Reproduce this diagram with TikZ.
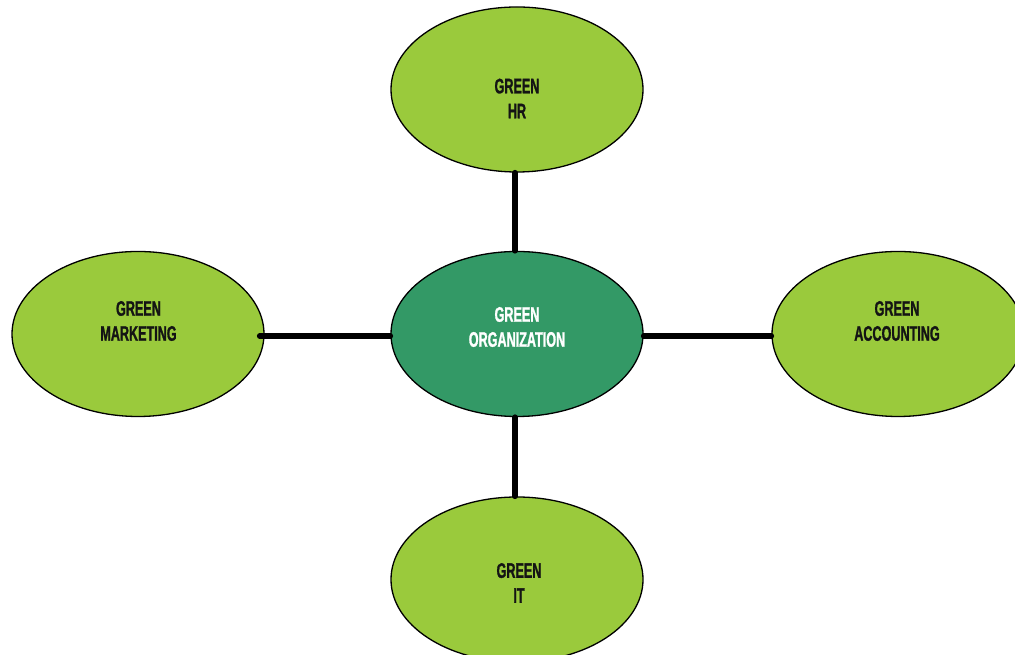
\documentclass[tikz,border=0pt]{standalone}
\usepackage{fontspec}
\newfontfamily\agency{Liberation Sans}[FakeStretch=0.6,FakeBold=1.2]
\usetikzlibrary{shapes.geometric}
\definecolor{lightgreen}{RGB}{154,202,60}
\definecolor{darkgreen}{RGB}{51,153,102}
\definecolor{inkblack}{RGB}{20,20,20}
\tikzset{
  bubble/.style={ellipse, draw=black, line width=1.3pt, minimum width=252pt, minimum height=165pt, inner sep=0pt, fill=lightgreen},
  hub/.style={bubble, fill=darkgreen},
  lbl/.style={align=center, font=\agency\bfseries\fontsize{21}{25}\selectfont, text=inkblack, inner sep=0pt},
  hublbl/.style={lbl, text=white},
  link/.style={line width=5.5pt, line cap=round, black}
}
\begin{document}
\begin{tikzpicture}[x=1pt,y=1pt]
\useasboundingbox (0,0) rectangle (1015,655);
\clip (0,0) rectangle (1015,655);
\fill[white] (0,0) rectangle (1015,655);
\node[hub]    (org) at (517,321) {};
\node[bubble] (hr)  at (517,565.5) {};
\node[bubble] (mkt) at (138,321) {};
\node[bubble] (acc) at (898,321) {};
\node[bubble] (it)  at (517,75.5) {};
\draw[link] ([xshift=-2pt]hr.south)  -- ([xshift=-2pt]org.north);
\draw[link] ([xshift=-2pt]org.south) -- ([xshift=-2pt]it.north);
\draw[link] ([xshift=-5pt,yshift=-2pt]mkt.east)  -- ([yshift=-2pt]org.west);
\draw[link] ([yshift=-2pt]org.east)  -- ([yshift=-2pt]acc.west);
\node[hublbl] (torg) at (517,328) {GREEN\\ORGANIZATION};
\node[lbl] (thr)  at (517,556.5) {GREEN\\HR};
\node[lbl] (tmkt) at (138.5,334) {GREEN\\MARKETING};
\node[lbl] (tacc) at (897,334) {GREEN\\ACCOUNTING};
\node[lbl] (tit)  at (519,72) {GREEN\\IT};
\end{tikzpicture}
\end{document}
